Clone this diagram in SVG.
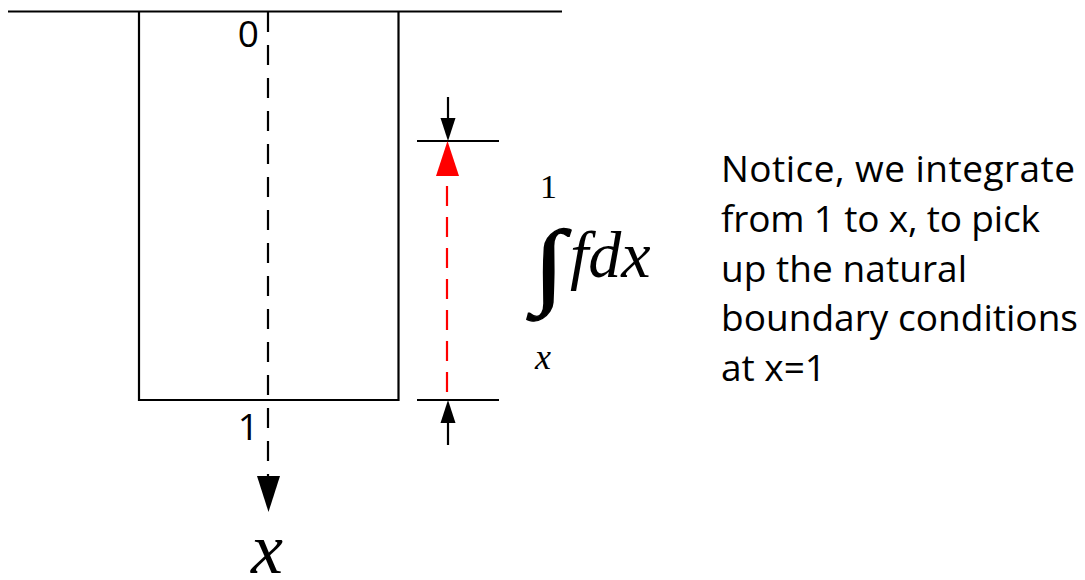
<svg xmlns="http://www.w3.org/2000/svg" width="1085" height="580" viewBox="0 0 1085 580">
<style>
.ln{stroke:#000;stroke-width:2.2;fill:none}
.dash{stroke:#000;stroke-width:2.2;stroke-dasharray:20 13;fill:none}
.rdash{stroke:#f00;stroke-width:2.2;stroke-dasharray:20 11;fill:none}
.sans{font-family:"Open Sans","Liberation Sans",sans-serif;font-size:37px;fill:#000}
.serif{font-family:"Liberation Serif","Times New Roman",serif;fill:#000}
</style>
<rect width="1085" height="580" fill="#fff"/>
<g id="ground">
<line class="ln" x1="8" y1="11.5" x2="562" y2="11.5"/>
</g>
<g id="column">
<path class="ln" d="M139 11.5 V400 H398.5 V11.5"/>
</g>
<g id="axis">
<line class="dash" x1="268" y1="12" x2="268" y2="477"/>
<polygon points="257,476 280,476 268.5,512" fill="#000"/>
<text class="serif" x="251" y="573" font-size="72" font-style="italic">x</text>
<text class="sans" x="259" y="47" text-anchor="end">0</text>
<text class="sans" x="259" y="440" text-anchor="end">1</text>
</g>
<g id="dimension">
<line class="ln" x1="417" y1="141" x2="499" y2="141"/>
<line class="ln" x1="417" y1="400" x2="499" y2="400"/>
<line class="ln" x1="448" y1="97" x2="448" y2="120"/>
<polygon points="440.5,118 455.5,118 448,141" fill="#000"/>
<line class="ln" x1="448" y1="422" x2="448" y2="445"/>
<polygon points="440.5,423 455.5,423 448,400" fill="#000"/>
<line class="rdash" x1="447" y1="186" x2="447" y2="400"/>
<polygon points="436,176 459,176 447.5,141" fill="#f00"/>
</g>
<g id="formula">
<text class="serif" x="540" y="198" font-size="34">1</text>
<text class="serif" transform="translate(533 296) scale(1.3 1.05)" x="0" y="0" font-size="90" stroke="#000" stroke-width="1.2">∫</text>
<text class="serif" x="570" y="277" font-size="66" font-style="italic">fdx</text>
<text class="serif" x="535" y="369" font-size="36" font-style="italic">x</text>
</g>
<g id="note">
<text class="sans" x="721" y="182" textLength="354" lengthAdjust="spacing">Notice, we integrate</text>
<text class="sans" x="721" y="232" textLength="319" lengthAdjust="spacing">from 1 to x, to pick</text>
<text class="sans" x="721" y="282" textLength="246" lengthAdjust="spacing">up the natural</text>
<text class="sans" x="721" y="331" textLength="357" lengthAdjust="spacing">boundary conditions</text>
<text class="sans" x="721" y="381" textLength="105" lengthAdjust="spacing">at x=1</text>
</g>
</svg>
